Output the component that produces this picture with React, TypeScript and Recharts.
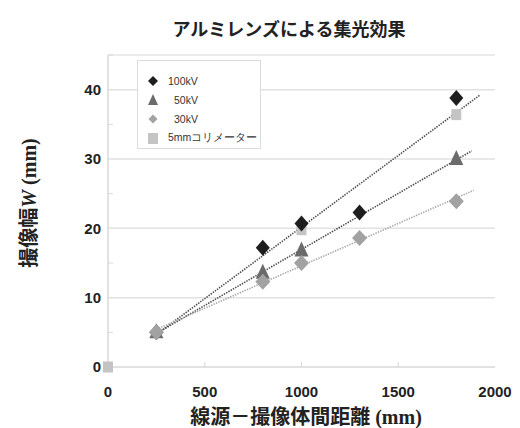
import React from "react";
import { ScatterChart, Scatter, XAxis, YAxis, ReferenceLine } from "recharts";

const kv100X = [250, 800, 1000, 1300, 1800];
const kv100Y = [5, 17.2, 20.7, 22.3, 38.8];
const kv50X = [250, 800, 1000, 1800];
const kv50Y = [5, 13.6, 16.8, 30];
const kv30X = [250, 800, 1000, 1300, 1800];
const kv30Y = [5, 12.3, 15, 18.6, 23.9];
const colX = [0, 1000, 1800];
const colY = [0, 19.8, 36.4];

const xTicks = [0, 500, 1000, 1500, 2000];
const yTicks = [0, 5, 10, 15, 20, 25, 30, 35, 40, 45];
const yLabeled = [0, 10, 20, 30, 40];
const gridValues = [10, 20, 30, 40];

const seriesNames = ["100kV", "50kV", "30kV", "5mmコリメーター"];
const trendEnds = [1920, 1880, 1890];

const toPts = (xs: number[], ys: number[]) => xs.map((x, i) => ({ x, y: ys[i] }));

function fit(xs: number[], ys: number[]) {
  const n = xs.length;
  const mx = xs.reduce((a, b) => a + b, 0) / n;
  const my = ys.reduce((a, b) => a + b, 0) / n;
  let sxx = 0, sxy = 0;
  for (let i = 0; i < n; i++) {
    sxx += (xs[i] - mx) ** 2;
    sxy += (xs[i] - mx) * (ys[i] - my);
  }
  const slope = sxy / sxx;
  const b = my - slope * mx;
  return (x: number) => slope * x + b;
}

const Diamond = (color: string, hw: number, hh: number) => (p: any) => (
  <path d={`M${p.cx},${p.cy - hh}L${p.cx + hw},${p.cy}L${p.cx},${p.cy + hh}L${p.cx - hw},${p.cy}Z`} fill={color} />
);
const Triangle = (color: string) => (p: any) => (
  <path d={`M${p.cx},${p.cy - 9}L${p.cx + 7},${p.cy + 6}L${p.cx - 7},${p.cy + 6}Z`} fill={color} />
);
const Square = (color: string) => (p: any) => (
  <rect x={p.cx - 5} y={p.cy - 5.5} width={10} height={11} fill={color} />
);

const C100 = "#1e1e1e";
const C50 = "#6b6b6b";
const C30 = "#a2a2a2";
const CCOL = "#c4c4c4";

const YTick = (p: any) => {
  const v = p.payload.value;
  return (
    <g>
      {yLabeled.includes(v) && (
        <text x={p.x} y={p.y} dy="0.36em" textAnchor="end" fontFamily="Liberation Sans, Arial" fontWeight="bold" fontSize={15} fill="#222">
          {v}
        </text>
      )}
      {!yLabeled.includes(v) && <line x1={p.x + 7} x2={p.x + 12} y1={p.y} y2={p.y} stroke="#d8d8d8" strokeWidth={1} />}
    </g>
  );
};

const XTick = (p: any) => {
  const v = p.payload.value;
  return (
    <g>
      <text x={p.x} y={p.y} dy="0.71em" textAnchor="middle" fontFamily="Liberation Sans, Arial" fontWeight="bold" fontSize={15} fill="#222">
        {v}
      </text>
      {v !== 0 && v !== 2000 && <line x1={p.x} x2={p.x} y1={p.y - 19} y2={p.y - 24} stroke="#d8d8d8" strokeWidth={1} />}
    </g>
  );
};

const legendSymbols = [
  <path d="M7,1L12,6L7,11L2,6Z" fill={C100} />,
  <path d="M7,0L12,11L2,11Z" fill={C50} />,
  <path d="M7,1.5L11.5,6L7,10.5L2.5,6Z" fill={C30} />,
  <rect x={2} y={1} width={10} height={11} fill={CCOL} />,
];
const legendIndent = [0, 6, 6, 0];

export default function App() {
  const f100 = fit(kv100X, kv100Y);
  const f50 = fit(kv50X, kv50Y);
  const f30 = fit(kv30X, kv30Y);
  const trends = [
    { f: f100, end: trendEnds[0], color: "#4a4a4a" },
    { f: f50, end: trendEnds[1], color: "#4a4a4a" },
    { f: f30, end: trendEnds[2], color: "#a8a8a8" },
  ];
  return (
    <div style={{ position: "absolute", left: 0, top: 0, width: 520, height: 428, background: "#fff", overflow: "hidden" }}>
      <ScatterChart width={520} height={428} margin={{ top: 55, right: 25, bottom: 0, left: 0 }}>
        <XAxis
          type="number"
          dataKey="x"
          domain={[0, 2000]}
          ticks={xTicks}
          interval={0}
          height={61}
          tickSize={0}
          tickMargin={19}
          tick={XTick}
          axisLine={{ stroke: "#d8d8d8", strokeWidth: 1.5 }}
          tickLine={false}
        />
        <YAxis
          type="number"
          dataKey="y"
          domain={[0, 45]}
          ticks={yTicks}
          interval={0}
          width={108}
          tickSize={0}
          tickMargin={7}
          tick={YTick}
          axisLine={{ stroke: "#d8d8d8", strokeWidth: 1.5 }}
          tickLine={false}
        />
        {gridValues.map((v) => (
          <ReferenceLine key={v} y={v} stroke="#e2e2e2" strokeWidth={1.5} />
        ))}
        <ReferenceLine y={45} segment={[{ x: 0, y: 45 }, { x: 30, y: 45 }]} stroke="#d8d8d8" strokeWidth={1} />
        {trends.map((t, i) => (
          <ReferenceLine
            key={"t" + i}
            segment={[
              { x: kv100X[0], y: t.f(kv100X[0]) },
              { x: t.end, y: t.f(t.end) },
            ]}
            stroke={t.color}
            strokeWidth={1.6}
            strokeDasharray="1.4 1.2"
            ifOverflow="visible"
          />
        ))}
        <Scatter name={seriesNames[3]} data={toPts(colX, colY)} shape={Square(CCOL)} isAnimationActive={false} />
        <Scatter name={seriesNames[0]} data={toPts(kv100X, kv100Y)} shape={Diamond(C100, 7, 8)} isAnimationActive={false} />
        <Scatter name={seriesNames[1]} data={toPts(kv50X, kv50Y)} shape={Triangle(C50)} isAnimationActive={false} />
        <Scatter name={seriesNames[2]} data={toPts(kv30X, kv30Y)} shape={Diamond(C30, 7.5, 8)} isAnimationActive={false} />
      </ScatterChart>

      <div
        style={{
          position: "absolute",
          left: 289,
          top: 28,
          transform: "translate(-50%, -50%)",
          whiteSpace: "nowrap",
          lineHeight: 1,
          fontFamily: "'Noto Sans CJK JP', sans-serif",
          fontWeight: "bold",
          fontSize: 18,
          color: "#222",
        }}
      >
        アルミレンズによる集光効果
      </div>

      <div
        style={{
          position: "absolute",
          left: 28,
          top: 203,
          transform: "translate(-50%, -50%) rotate(-90deg)",
          whiteSpace: "nowrap",
          lineHeight: 1,
          fontWeight: "bold",
          fontSize: 20,
          color: "#222",
        }}
      >
        <span style={{ fontFamily: "'Noto Sans CJK JP', sans-serif" }}>撮像幅</span>
        <span style={{ fontFamily: "'Liberation Serif', serif", fontStyle: "italic" }}>W</span>
        <span style={{ fontFamily: "'Liberation Serif', serif" }}> (mm)</span>
      </div>

      <div
        style={{
          position: "absolute",
          left: 306,
          top: 416,
          transform: "translate(-50%, -50%)",
          whiteSpace: "nowrap",
          lineHeight: 1,
          fontWeight: "bold",
          fontSize: 20,
          color: "#222",
        }}
      >
        <span style={{ fontFamily: "'Noto Sans CJK JP', sans-serif" }}>線源－撮像体間距離</span>
        <span style={{ fontFamily: "'Liberation Serif', serif" }}> (mm)</span>
      </div>

      <div
        style={{
          position: "absolute",
          left: 137,
          top: 60,
          width: 124,
          height: 89,
          border: "1px solid #dcdcdc",
          background: "#fff",
          boxSizing: "border-box",
        }}
      >
        {seriesNames.map((n, i) => (
          <div key={n} style={{ position: "absolute", left: 8, top: 13 + i * 19, height: 14, display: "flex", alignItems: "center" }}>
            <svg width={14} height={12} style={{ display: "block" }}>
              {legendSymbols[i]}
            </svg>
            <span
              style={{
                marginLeft: 8 + legendIndent[i],
                fontFamily: "'Liberation Sans', Arial, sans-serif",
                fontSize: 10.5,
                color: "#333",
                whiteSpace: "nowrap",
              }}
            >
              {n}
            </span>
          </div>
        ))}
      </div>
    </div>
  );
}
